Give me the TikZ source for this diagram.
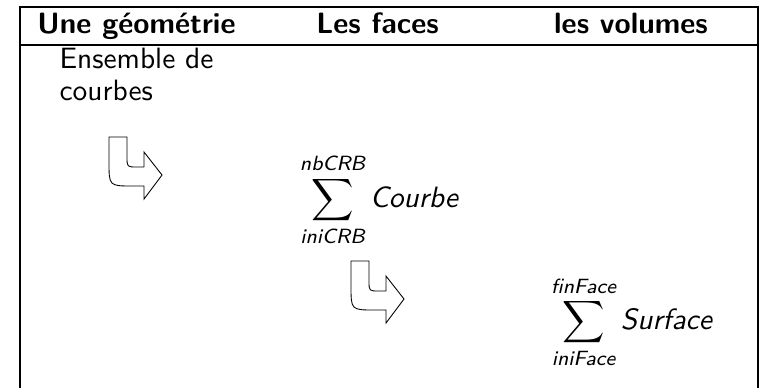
\documentclass[tikz,border=0pt]{standalone}
\usepackage{amsmath}
\tikzset{
  head/.style={font=\sffamily\bfseries, anchor=base, inner sep=0},
  cell/.style={font=\sffamily, inner sep=0},
  frame/.style={line width=0.45pt},
  bent/.style={line width=0.3pt}
}
\newcommand{\sit}[1]{\text{\sffamily\itshape #1}}
% bent arrow, #1 #2 = top left corner
\newcommand{\bentarrow}[2]{%
\draw[bent, shift={(#1,#2)}] (0,0) -- (18,0) -- (18,20) .. controls (18,30) .. (28,30) -- (35,30) -- (35,15) -- (53,38) -- (35,62) -- (35,49) -- (24,49) .. controls (0,49) .. (0,25) -- cycle;}
\begin{document}
\begin{tikzpicture}[x=0.34pt, y=-0.34pt]
\useasboundingbox (0,0) rectangle (760,388);
% table frame
\draw[frame] (20,388) -- (20,7) -- (758,7) -- (758,388);
\draw[frame] (20,45) -- (758,45);
% headers
\node[head] (geo) at (136.5,33) {Une géométrie};
\node[head] (fac) at (377.5,33) {Les faces};
\node[head] (vol) at (631,33) {les volumes};
% cells
\node[cell, align=left, anchor=north west, font=\sffamily\fontsize{10}{11.2}\selectfont] (ens) at (59,47) {Ensemble de\\courbes};
\node[cell] (crb) at (379,200) {$\displaystyle\sum_{\sit{iniCRB}}^{\sit{nbCRB}} \sit{Courbe}$};
\node[cell] (srf) at (631.5,322) {$\displaystyle\sum_{\sit{iniFace}}^{\sit{finFace}} \sit{Surface}$};
% arrows
\bentarrow{109}{137}
\bentarrow{351}{261}
\end{tikzpicture}
\end{document}
